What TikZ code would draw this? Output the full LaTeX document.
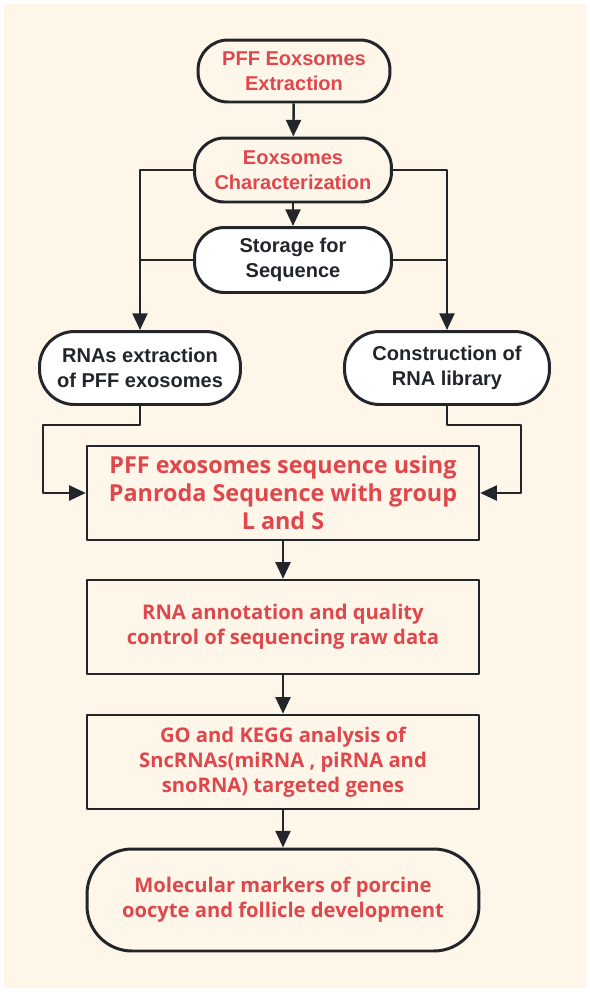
\documentclass[tikz,border=0pt]{standalone}
\usepackage{fontspec}
\setmainfont{Liberation Sans}
\newfontfamily\yahei{Open Sans}
\usetikzlibrary{arrows.meta}
\definecolor{cream}{HTML}{FDF6E9}
\definecolor{redtxt}{HTML}{E0474C}
\definecolor{ink}{HTML}{22252A}
\begin{document}
\begin{tikzpicture}[x=0.02cm, y=-0.02cm, line join=round, >={Triangle[length=9.5pt,width=8.5pt]},
	capsule/.style={draw=ink, line width=1.7pt, rounded corners=0.6cm, align=center, inner sep=0pt, font=\bfseries\fontsize{11.4}{14.2}\selectfont},
	block/.style={draw=ink, line width=1.4pt, fill=cream, align=center, inner sep=0pt, minimum width=7.84cm, minimum height=1.88cm, text=redtxt, font=\yahei\bfseries\fontsize{11.5}{14.2}\selectfont},
	link/.style={ink, line width=1.4pt}]
	\fill[white] (0,0) rectangle (590,992);
	\fill[cream] (4,4) rectangle (586,988);
	\useasboundingbox (0,0) rectangle (590,992);
	% top part
	\node[capsule, fill=cream, text=redtxt, minimum width=3.84cm, minimum height=1.24cm] (extract) at (294,71) {PFF Eoxsomes\\Extraction};
	\node[capsule, fill=cream, text=redtxt, minimum width=3.94cm, minimum height=1.28cm] (charact) at (293,170) {Eoxsomes\\Characterization};
	\node[capsule, fill=white, text=ink, minimum width=3.94cm, minimum height=1.3cm] (storage) at (293,260) {Storage for\\Sequence};
	\node[capsule, fill=white, text=ink, minimum width=4.02cm, minimum height=1.46cm, rounded corners=0.7cm] (rnaext) at (140,368) {RNAs extraction\\of PFF exosomes};
	\node[capsule, fill=white, text=ink, minimum width=4.1cm, minimum height=1.46cm, rounded corners=0.7cm] (library) at (447,368) {Construction of\\RNA library};
	% lower part
	\node[block, font=\yahei\bfseries\fontsize{13.3}{16}\selectfont] (seq) at (283,493) {PFF exosomes sequence using\\Panroda Sequence with group\\L and S};
	\node[block] (annot) at (283,627) {RNA annotation and quality\\control of sequencing raw data};
	\node[block] (goana) at (283,762) {GO and KEGG analysis of\\SncRNAs(miRNA , piRNA and\\snoRNA) targeted genes};
	\node[block, line width=1.7pt, rounded corners=0.9cm, minimum height=2.04cm] (marker) at (283,900) {Molecular markers of porcine\\oocyte and follicle development};
	\coordinate (lbend) at (43,425);
	\coordinate (rbend) at (521,425);
	\draw[link,->] (extract) -- (charact);
	\draw[link,->] (charact) -- (storage);
	\draw[link,->] (charact.west) -| (rnaext.north);
	\draw[link] (storage.west) -- (storage.west -| rnaext.north);
	\draw[link,->] (charact.east) -| (library.north);
	\draw[link] (storage.east) -- (storage.east -| library.north);
	\draw[link,->] (rnaext.south) |- (lbend) |- (seq.west);
	\draw[link,->] (library.south) |- (rbend) |- (seq.east);
	\draw[link,->] (seq) -- (annot);
	\draw[link,->] (annot) -- (goana);
	\draw[link,->] (goana) -- (marker);
\end{tikzpicture}
\end{document}
